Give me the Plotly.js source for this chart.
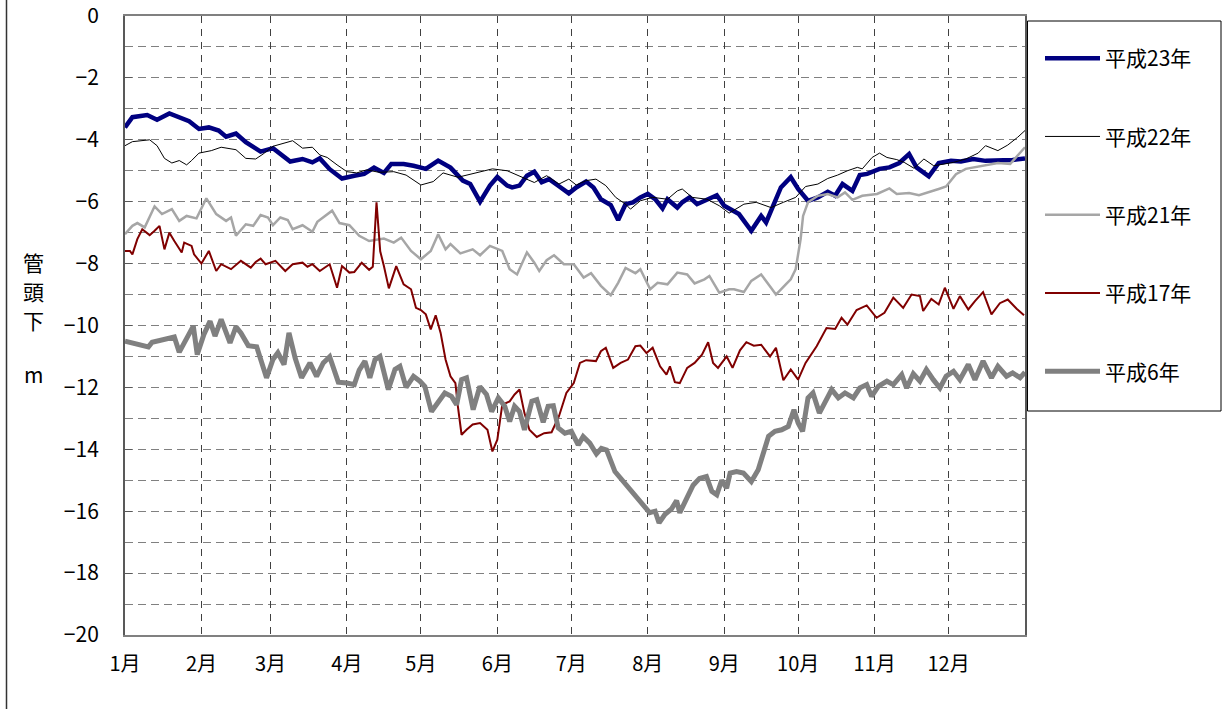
<!DOCTYPE html>
<html>
<head>
<meta charset="utf-8">
<script src="https://cdn.plot.ly/plotly-3.0.1.min.js"></script>
<style>html,body{margin:0;padding:0;background:#fff;}#chart{width:1224px;height:709px;}</style>
</head>
<body>
<div id="chart"></div>
<script>
// Month start (day of year) and tick labels
const monthStart = [0,31,59,90,120,151,181,212,243,273,304,334];
const monthLabels = ['1月','2月','3月','4月','5月','6月','7月','8月','9月','10月','11月','12月'];
const seriesNames = ['平成23年','平成22年','平成21年','平成17年','平成6年'];

// [day of year, depth below pipe head (m)]
const h23 = [[0,-3.6],[3,-3.27],[9,-3.2],[13,-3.35],[18,-3.15],[22,-3.27],[26,-3.4],[30,-3.65],[34,-3.6],[38,-3.7],
[41,-3.9],[45,-3.8],[49,-4.08],[55,-4.38],[60,-4.27],[67,-4.7],[72,-4.62],[76,-4.73],[79,-4.6],[83,-4.95],
[88,-5.25],[93,-5.16],[97,-5.1],[101,-4.9],[105,-5.07],[108,-4.78],[113,-4.78],[117,-4.84],[120,-4.9],[122,-4.94],
[127,-4.67],[132,-4.9],[137,-5.32],[140,-5.43],[144,-6.0],[148,-5.48],[151,-5.2],[155,-5.48],[157,-5.54],[160,-5.48],
[163,-5.16],[166,-5.03],[169,-5.37],[172,-5.27],[176,-5.5],[180,-5.73],[183,-5.54],[187,-5.35],[190,-5.54],[193,-5.92],
[197,-6.11],[200,-6.59],[203,-6.08],[206,-6.02],[209,-5.86],[212,-5.75],[215,-5.92],[218,-6.22],[220,-5.92],[224,-6.19],
[226,-6.02],[229,-5.86],[232,-6.08],[237,-5.89],[240,-5.79],[243,-6.13],[247,-6.33],[249,-6.4],[254,-6.94],[258,-6.46],
[260,-6.67],[264,-5.92],[266,-5.54],[270,-5.21],[273,-5.59],[277,-5.97],[281,-5.86],[285,-5.68],[288,-5.81],[291,-5.43],
[295,-5.65],[298,-5.14],[301,-5.1],[306,-4.94],[310,-4.89],[314,-4.75],[318,-4.46],[321,-4.89],[326,-5.18],[330,-4.75],
[335,-4.68],[339,-4.7],[344,-4.62],[349,-4.68],[355,-4.67],[360,-4.65],[365,-4.6]];

const h22 = [[0,-4.19],[3,-4.06],[10,-4.0],[13,-4.19],[16,-4.6],[19,-4.75],[22,-4.67],[25,-4.81],[27,-4.67],[30,-4.43],
[35,-4.35],[39,-4.24],[45,-4.32],[49,-4.6],[53,-4.62],[56,-4.46],[60,-4.21],[64,-4.13],[68,-4.03],[72,-4.27],
[76,-4.24],[79,-4.49],[82,-4.57],[86,-4.81],[90,-5.03],[94,-5.07],[98,-4.97],[103,-5.05],[109,-5.03],[114,-5.14],
[120,-5.46],[125,-5.35],[129,-5.07],[135,-5.21],[141,-5.1],[149,-4.94],[155,-5.0],[160,-5.18],[166,-5.38],[171,-5.16],
[176,-5.43],[180,-5.27],[183,-5.46],[187,-5.32],[191,-5.27],[195,-5.48],[199,-5.86],[203,-6.08],[205,-6.24],[209,-5.97],
[214,-5.86],[220,-5.92],[224,-5.65],[226,-5.59],[230,-5.86],[236,-5.92],[241,-6.13],[245,-6.37],[251,-6.08],[256,-6.02],
[262,-6.19],[267,-6.02],[272,-5.86],[276,-5.51],[281,-5.43],[285,-5.25],[289,-5.14],[293,-5.0],[297,-4.89],[299,-4.94],
[303,-4.57],[306,-4.43],[309,-4.57],[313,-4.64],[316,-4.73],[320,-4.92],[324,-4.62],[328,-4.84],[332,-4.78],[336,-4.73],
[341,-4.62],[346,-4.43],[349,-4.19],[354,-4.35],[358,-4.17],[362,-3.92],[365,-3.7]];

const h21 = [[0,-7.05],[3,-6.78],[5,-6.69],[8,-6.83],[12,-6.15],[15,-6.4],[19,-6.24],[22,-6.62],[25,-6.46],[29,-6.54],
[33,-5.89],[37,-6.4],[41,-6.62],[43,-6.51],[45,-7.1],[49,-6.73],[52,-6.78],[55,-6.43],[58,-6.51],[60,-6.76],
[63,-6.51],[66,-6.59],[68,-6.89],[72,-6.76],[76,-6.97],[78,-6.65],[84,-6.29],[87,-6.69],[91,-6.76],[95,-7.1],
[99,-7.27],[105,-7.19],[109,-7.32],[112,-7.16],[116,-7.59],[120,-7.86],[124,-7.59],[127,-7.05],[130,-7.54],[132,-7.37],
[136,-7.67],[141,-7.54],[144,-7.73],[148,-7.43],[153,-7.59],[156,-8.18],[159,-8.35],[163,-7.64],[166,-7.97],[168,-8.24],
[171,-7.89],[174,-7.73],[178,-8.02],[182,-8.02],[186,-8.45],[189,-8.31],[193,-8.72],[197,-9.02],[200,-8.62],[203,-8.14],
[207,-8.31],[209,-8.18],[213,-8.83],[216,-8.62],[220,-8.67],[224,-8.29],[228,-8.35],[231,-8.64],[235,-8.51],[237,-8.4],
[241,-8.94],[245,-8.83],[247,-8.83],[251,-8.92],[254,-8.56],[258,-8.35],[262,-8.78],[264,-9.0],[268,-8.67],[270,-8.51],
[272,-8.18],[274,-7.21],[275,-6.46],[277,-6.02],[281,-5.81],[285,-5.75],[289,-5.86],[292,-5.7],[295,-5.94],[299,-5.81],
[305,-5.75],[310,-5.57],[313,-5.75],[318,-5.72],[322,-5.79],[326,-5.7],[330,-5.59],[333,-5.51],[337,-5.11],[341,-4.94],
[348,-4.84],[354,-4.75],[359,-4.78],[362,-4.51],[365,-4.24]];

const h17 = [[0,-7.59],[2,-7.59],[3,-7.7],[5,-7.21],[7,-6.89],[10,-7.08],[12,-6.94],[14,-6.78],[16,-7.54],[18,-7.0],
[20,-7.27],[23,-7.64],[24,-7.32],[27,-7.43],[28,-7.7],[31,-8.0],[34,-7.59],[37,-8.24],[39,-8.02],[43,-8.18],
[47,-7.91],[51,-8.13],[53,-7.95],[55,-7.84],[57,-8.02],[61,-7.91],[65,-8.24],[68,-8.02],[72,-7.97],[74,-8.1],
[76,-8.02],[79,-8.24],[83,-8.02],[86,-8.78],[88,-8.08],[91,-8.29],[93,-8.27],[96,-7.97],[99,-8.2],[100.5,-8.1],
[102,-6.02],[103.5,-7.6],[105,-8.08],[107,-8.8],[110,-8.08],[113,-8.67],[116,-8.83],[118,-9.43],[120,-9.5],[122,-9.64],
[124,-10.13],[126,-9.67],[128,-10.24],[130,-11.1],[132,-11.64],[134,-11.86],[135,-12.61],[136.5,-13.53],[138.5,-13.37],[141,-13.2],
[144,-13.15],[147,-13.37],[149,-14.07],[151,-13.69],[153,-12.56],[156,-12.45],[158,-12.23],[160,-12.07],[162,-12.83],[164,-13.37],
[167,-13.6],[170,-13.48],[173,-13.45],[176,-12.93],[179,-12.18],[182,-11.86],[184.5,-11.21],[187,-11.12],[191,-11.15],[193,-10.83],
[195,-10.72],[198,-11.37],[201,-11.21],[204,-11.1],[207,-10.67],[209,-10.65],[211.5,-10.89],[214,-10.72],[217,-11.32],[219.6,-11.59],
[221,-11.32],[223,-11.83],[225,-11.86],[228,-11.37],[231,-11.21],[234,-10.94],[236.5,-10.54],[238.5,-11.21],[240.5,-11.37],[244,-11.0],
[246.4,-11.37],[249.4,-10.8],[252,-10.54],[255,-10.65],[258,-10.62],[261.6,-11.0],[264,-10.72],[267,-11.77],[270,-11.42],[273,-11.75],
[276,-11.21],[280.5,-10.67],[284.5,-10.08],[288,-10.11],[290.6,-9.75],[293,-9.97],[296.7,-9.5],[300.8,-9.35],[304.8,-9.75],[308,-9.59],
[311.6,-9.1],[315.6,-9.43],[319,-9.0],[322.4,-9.05],[323.7,-9.53],[327,-9.14],[330,-9.32],[332.5,-8.78],[336,-9.46],[338.6,-9.05],
[342,-9.48],[344.7,-9.21],[348,-8.92],[351.4,-9.64],[354.8,-9.28],[358,-9.16],[361.6,-9.46],[364.6,-9.67]];

const h6 = [[0,-10.51],[3,-10.58],[7,-10.65],[9.5,-10.69],[11,-10.54],[20,-10.37],[22,-10.86],[25,-10.43],[27.7,-10.02],[29.3,-10.94],
[32,-10.29],[34.5,-9.86],[36.5,-10.34],[39,-9.8],[42.6,-10.56],[45,-10.04],[47,-10.24],[50,-10.65],[53.4,-10.69],[57.4,-11.69],
[60,-11.1],[62,-10.88],[64.5,-11.26],[66.5,-10.24],[69,-11.05],[71.6,-11.69],[75,-11.21],[77.7,-11.64],[80.4,-11.21],[83,-11.01],
[86.5,-11.83],[90,-11.86],[93,-11.91],[95,-11.44],[97.3,-11.15],[99.3,-11.69],[101.4,-11.1],[103.4,-11.0],[106.8,-12.07],[109.5,-11.42],
[111.5,-11.32],[114,-12.0],[117,-11.64],[119.6,-11.8],[121.6,-11.97],[124.3,-12.78],[127,-12.45],[129.7,-12.18],[132.4,-12.29],[134.5,-12.56],
[136.5,-11.75],[138.5,-11.69],[141.2,-12.72],[143.9,-11.97],[146.6,-12.23],[148.7,-12.78],[151.4,-12.34],[154,-12.61],[156,-13.1],[158,-12.61],
[160,-12.78],[162,-13.37],[165,-12.45],[167,-12.4],[169.6,-13.13],[171.6,-12.61],[173.7,-12.59],[175.7,-13.31],[178.4,-13.48],[181,-13.42],
[183.8,-13.86],[185.8,-13.59],[188.5,-13.8],[191.2,-14.15],[193.2,-13.97],[195.3,-14.02],[198.7,-14.72],[212.8,-16.05],[215,-16.0],[216.6,-16.38],
[219,-16.1],[221.6,-15.93],[223.7,-15.66],[225,-16.05],[227.7,-15.6],[230.4,-15.16],[233,-14.94],[235.8,-14.88],[238,-15.36],[240,-15.47],
[242,-15.0],[244,-15.26],[245.4,-14.77],[248,-14.72],[250.8,-14.77],[254,-15.04],[256.8,-14.66],[259,-14.12],[261,-13.58],[263.6,-13.42],
[266.3,-13.37],[269,-13.26],[271.3,-12.72],[273,-13.15],[274.8,-13.42],[277,-12.34],[279,-12.18],[281.6,-12.83],[284,-12.45],[286.6,-12.07],
[289.3,-12.34],[292,-12.18],[295.4,-12.34],[298,-12.02],[300.8,-11.91],[302.8,-12.29],[305.5,-11.97],[309,-11.8],[311.6,-11.91],[315,-11.59],
[317,-12.02],[319.7,-11.56],[322.4,-11.8],[325,-11.42],[327.8,-11.75],[330.5,-12.02],[333,-11.64],[336,-11.48],[338.6,-11.75],[342,-11.26],
[344.7,-11.75],[348,-11.15],[351.4,-11.69],[354,-11.32],[357.5,-11.64],[360,-11.53],[363,-11.69],[365,-11.51]];

const allSeries = [h23, h22, h21, h17, h6];
const colors = ['#000080', '#000000', '#a6a6a6', '#800000', '#808080'];
const widths = [4.5, 1, 2.5, 2, 5];

const traces = allSeries.map((s, i) => ({
  type: 'scatter', mode: 'lines',
  x: s.map(p => p[0]), y: s.map(p => p[1]),
  name: seriesNames[i], legendgroup: 'g' + i,
  line: {color: colors[i], width: widths[i], shape: 'linear'},
  hoverinfo: 'skip'
}));

// plot area: 125..1025 px wide, 16..635 px tall
const px = x => (x - 125) / 900;
const py = y => (635 - y) / 619;
const FONT = '"Noto Sans CJK JP", "Noto Sans", sans-serif';

const layout = {
  width: 1224, height: 709,
  margin: {l: 125, r: 199, t: 16, b: 74, pad: 0},
  paper_bgcolor: '#ffffff', plot_bgcolor: '#ffffff',
  font: {family: FONT, size: 18, color: '#000'},
  showlegend: true,
  xaxis: {
    range: [0, 365], tickmode: 'array', tickvals: monthStart, ticktext: monthLabels,
    showgrid: true, gridcolor: '#404040', gridwidth: 1, griddash: '7px,6px',
    showline: true, linecolor: '#808080', linewidth: 2, mirror: true,
    ticks: '', zeroline: false, tickfont: {family: FONT, size: 20, color: '#000'},
    ticklabelstandoff: 10, ticklabeloverflow: 'allow', fixedrange: true
  },
  yaxis: {
    range: [-20, 0], tickmode: 'linear', tick0: 0, dtick: 2,
    showgrid: true, gridcolor: '#808080', gridwidth: 1, griddash: '8px,5px',
    minor: {dtick: 1, tick0: 0, showgrid: true, gridcolor: '#808080', gridwidth: 1, griddash: '8px,5px'},
    showline: true, linecolor: '#595959', linewidth: 2, mirror: true,
    ticks: 'inside', ticklen: 7, tickcolor: '#595959', tickwidth: 1,
    zeroline: false, tickfont: {family: FONT, size: 21, color: '#000'},
    ticklabelstandoff: 20, ticklabeloverflow: 'allow', fixedrange: true
  },
  legend: {
    x: px(1040), xanchor: 'left', y: py(38), yanchor: 'top',
    bgcolor: 'rgba(0,0,0,0)', borderwidth: 0,
    font: {family: FONT, size: 21, color: '#000'},
    tracegroupgap: 48, itemwidth: 55, traceorder: 'grouped'
  },
  shapes: [
    {type: 'rect', xref: 'paper', yref: 'paper', x0: px(1027.5), x1: px(1221), y0: py(411), y1: py(21),
     line: {color: '#000', width: 1}, fillcolor: 'rgba(0,0,0,0)'},
    {type: 'line', xref: 'paper', yref: 'paper', x0: px(6.5), x1: px(6.5), y0: py(709), y1: py(0),
     line: {color: '#333', width: 1.5}}
  ],
  annotations: [
    {text: '管', x: px(33), y: py(262)},
    {text: '頭', x: px(33), y: py(291)},
    {text: '下', x: px(33), y: py(320)},
    {text: 'm', x: px(33), y: py(374)}
  ].map(a => Object.assign({xref: 'paper', yref: 'paper', showarrow: false, xanchor: 'center', yanchor: 'middle',
        font: {family: FONT, size: 21, color: '#000'}}, a))
};

Plotly.newPlot('chart', traces, layout, {displayModeBar: false, staticPlot: true});
</script>
</body>
</html>
